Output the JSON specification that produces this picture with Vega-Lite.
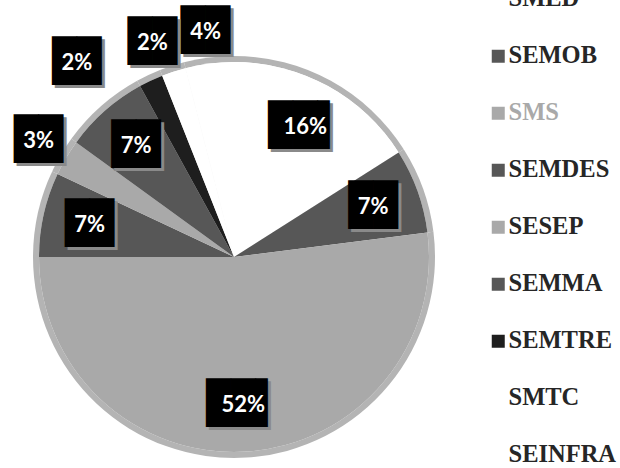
{
  "$schema": "https://vega.github.io/schema/vega-lite/v6.json",
  "width": 468,
  "height": 422,
  "autosize": "none",
  "padding": {"left": 0, "top": 46, "right": 152, "bottom": 0},
  "background": "white",
  "config": {"view": {"stroke": null}},
  "data": {"values": [
    {"unit": "SMED", "rank": 1, "value": 16, "label": "16%"},
    {"unit": "SEMOB", "rank": 2, "value": 7, "label": "7%"},
    {"unit": "SMS", "rank": 3, "value": 52, "label": "52%"},
    {"unit": "SEMDES", "rank": 4, "value": 7, "label": "7%"},
    {"unit": "SESEP", "rank": 5, "value": 3, "label": "3%"},
    {"unit": "SEMMA", "rank": 6, "value": 7, "label": "7%"},
    {"unit": "SEMTRE", "rank": 7, "value": 2, "label": "2%"},
    {"unit": "SMTC", "rank": 8, "value": 2, "label": "2%"},
    {"unit": "SEINFRA", "rank": 9, "value": 4, "label": "4%"}
  ]},
  "encoding": {
    "theta": {"field": "value", "type": "quantitative", "stack": true},
    "order": {"field": "rank", "type": "quantitative"}
  },
  "layer": [
    {
      "mark": {"type": "arc", "outerRadius": 201, "color": "#b4b4b4"}
    },
    {
      "mark": {"type": "arc", "outerRadius": 195, "color": "#ffffff"}
    },
    {
      "mark": {"type": "arc", "outerRadius": 195},
      "encoding": {
        "color": {
          "field": "unit", "type": "nominal",
          "sort": ["SMED", "SEMOB", "SMS", "SEMDES", "SESEP", "SEMMA", "SEMTRE", "SMTC", "SEINFRA"],
          "scale": {
            "domain": ["SMED", "SEMOB", "SMS", "SEMDES", "SESEP", "SEMMA", "SEMTRE", "SMTC", "SEINFRA"],
            "range": ["#ffffff", "#575757", "#a9a9a9", "#575757", "#a9a9a9", "#575757", "#1e1e1e", "#ffffff", "#ffffff"]
          },
          "legend": {
            "title": null,
            "orient": "none",
            "legendX": 486,
            "legendY": -59,
            "padding": 0,
            "symbolType": "square",
            "symbolSize": 169,
            "symbolStrokeWidth": 0,
            "labelFont": "Liberation Serif",
            "labelFontSize": 24.5,
            "labelFontWeight": "bold",
            "labelColor": "#262626",
            "labelOffset": -2,
            "labelLimit": 200,
            "rowPadding": 32,
            "encode": {
              "labels": {"update": {"fill": {"signal": "datum.value === 'SMS' ? '#a9a9a9' : '#262626'"}}}
            }
          }
        }
      }
    },
    {
      "mark": {"type": "text", "font": "DejaVu Sans Mono", "fontSize": 41, "baseline": "middle", "align": "center", "color": "#8a8a8a", "dx": 3, "dy": 3},
      "encoding": {
        "radius": {"value": 148},
        "text": {"condition": {"test": "datum.value >= 10", "value": "██▌"}, "value": {"expr": "datum.value >= 5 ? '██' : ''"}}
      }
    },
    {
      "mark": {"type": "text", "font": "DejaVu Sans Mono", "fontSize": 41, "baseline": "middle", "align": "center", "color": "#000000"},
      "encoding": {
        "radius": {"value": 148},
        "text": {"condition": {"test": "datum.value >= 10", "value": "██▌"}, "value": {"expr": "datum.value >= 5 ? '██' : ''"}}
      }
    },
    {
      "mark": {"type": "text", "font": "Lato", "fontWeight": "bold", "fontSize": 22, "baseline": "middle", "align": "center", "color": "#ffffff"},
      "encoding": {
        "radius": {"value": 148},
        "text": {"condition": {"test": "datum.value >= 5", "field": "label"}, "value": ""}
      }
    },
    {
      "mark": {"type": "text", "font": "DejaVu Sans Mono", "fontSize": 41, "baseline": "middle", "align": "center", "color": "#8a8a8a", "dx": 3, "dy": 3},
      "encoding": {
        "radius": {"value": 227},
        "text": {"condition": {"test": "datum.unit === 'SESEP' || datum.unit === 'SEINFRA'", "value": "██"}, "value": ""}
      }
    },
    {
      "mark": {"type": "text", "font": "DejaVu Sans Mono", "fontSize": 41, "baseline": "middle", "align": "center", "color": "#000000"},
      "encoding": {
        "radius": {"value": 227},
        "text": {"condition": {"test": "datum.unit === 'SESEP' || datum.unit === 'SEINFRA'", "value": "██"}, "value": ""}
      }
    },
    {
      "mark": {"type": "text", "font": "Lato", "fontWeight": "bold", "fontSize": 22, "baseline": "middle", "align": "center", "color": "#ffffff"},
      "encoding": {
        "radius": {"value": 227},
        "text": {"condition": {"test": "datum.unit === 'SESEP' || datum.unit === 'SEINFRA'", "field": "label"}, "value": ""}
      }
    },
    {
      "mark": {"type": "text", "font": "DejaVu Sans Mono", "fontSize": 41, "baseline": "middle", "align": "center", "color": "#8a8a8a", "dx": 3, "dy": 3, "thetaOffset": -0.05},
      "encoding": {
        "radius": {"value": 229},
        "text": {"condition": {"test": "datum.unit === 'SMTC'", "value": "██"}, "value": ""}
      }
    },
    {
      "mark": {"type": "text", "font": "DejaVu Sans Mono", "fontSize": 41, "baseline": "middle", "align": "center", "color": "#000000", "thetaOffset": -0.05},
      "encoding": {
        "radius": {"value": 229},
        "text": {"condition": {"test": "datum.unit === 'SMTC'", "value": "██"}, "value": ""}
      }
    },
    {
      "mark": {"type": "text", "font": "Lato", "fontWeight": "bold", "fontSize": 22, "baseline": "middle", "align": "center", "color": "#ffffff", "thetaOffset": -0.05},
      "encoding": {
        "radius": {"value": 229},
        "text": {"condition": {"test": "datum.unit === 'SMTC'", "field": "label"}, "value": ""}
      }
    },
    {
      "mark": {"type": "text", "font": "DejaVu Sans Mono", "fontSize": 41, "baseline": "middle", "align": "center", "color": "#8a8a8a", "dx": 3, "dy": 3, "thetaOffset": -0.24},
      "encoding": {
        "radius": {"value": 250},
        "text": {"condition": {"test": "datum.unit === 'SEMTRE'", "value": "██"}, "value": ""}
      }
    },
    {
      "mark": {"type": "text", "font": "DejaVu Sans Mono", "fontSize": 41, "baseline": "middle", "align": "center", "color": "#000000", "thetaOffset": -0.24},
      "encoding": {
        "radius": {"value": 250},
        "text": {"condition": {"test": "datum.unit === 'SEMTRE'", "value": "██"}, "value": ""}
      }
    },
    {
      "mark": {"type": "text", "font": "Lato", "fontWeight": "bold", "fontSize": 22, "baseline": "middle", "align": "center", "color": "#ffffff", "thetaOffset": -0.24},
      "encoding": {
        "radius": {"value": 250},
        "text": {"condition": {"test": "datum.unit === 'SEMTRE'", "field": "label"}, "value": ""}
      }
    }
  ]
}
